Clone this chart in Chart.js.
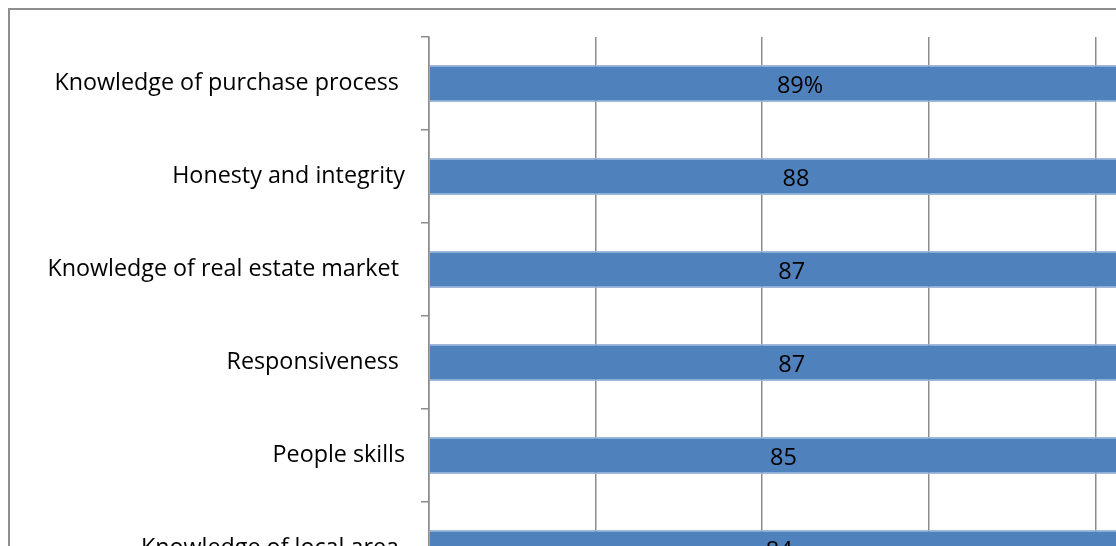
<!DOCTYPE html>
<html>
<head>
<meta charset="utf-8">
<script src="https://cdn.jsdelivr.net/npm/chart.js@4/dist/chart.umd.min.js"></script>
<style>
  html, body { margin: 0; padding: 0; background: #fff; overflow: hidden; width: 1116px; height: 546px; }
  #frame { position: absolute; left: 8px; top: 8px; width: 1400px; height: 800px; border: 2px solid #8e8e8e; box-sizing: border-box; }
  #wrap { position: absolute; left: 0; top: 0; width: 1400px; height: 800px; }
</style>
</head>
<body>
<div id="frame"></div>
<div id="wrap"><canvas id="c" width="1400" height="800"></canvas></div>
<script>
const categories = [
  "Knowledge of purchase process ",
  "Honesty and integrity",
  "Knowledge of real estate market ",
  "Responsiveness ",
  "People skills",
  "Knowledge of local area "
];
const values = [89, 88, 87, 87, 85, 84];
const valueLabels = ["89%", "88", "87", "87", "85", "84"];
const xTicks = [0, 20, 40, 60, 80, 100];

const FONT = "'Open Sans', 'Noto Sans', sans-serif";

const centerLabels = {
  id: 'centerLabels',
  afterDatasetsDraw(chart) {
    const ctx = chart.ctx;
    const meta = chart.getDatasetMeta(0);
    ctx.save();
    ctx.font = "23.5px " + FONT;
    ctx.fillStyle = "#000";
    ctx.textAlign = "center";
    ctx.textBaseline = "middle";
    meta.data.forEach((bar, i) => {
      const cx = (bar.base + bar.x) / 2;
      ctx.fillText(valueLabels[i], cx, bar.y + 2.5);
    });
    ctx.restore();
  }
};

new Chart(document.getElementById('c'), {
  type: 'bar',
  data: {
    labels: categories,
    datasets: [{
      data: values,
      backgroundColor: '#4F81BD',
      borderColor: '#9fb9dc',
      borderWidth: { top: 1.5, bottom: 1.5, left: 0, right: 0 },
      borderSkipped: false,
      barPercentage: 0.4,
      categoryPercentage: 1.0
    }]
  },
  options: {
    indexAxis: 'y',
    responsive: false,
    animation: false,
    events: [],
    layout: { padding: { left: 0, top: 37, right: 138, bottom: 165 } },
    plugins: { legend: { display: false }, tooltip: { enabled: false }, title: { display: false } },
    scales: {
      x: {
        min: xTicks[0],
        max: xTicks[xTicks.length - 1],
        afterBuildTicks(scale) { scale.ticks = xTicks.map(v => ({ value: v })); },
        afterFit(scale) { scale.height = 40; },
        grid: { color: '#8c8c8c', lineWidth: 1.5, drawTicks: true, tickLength: 8 },
        border: { display: false },
        ticks: { font: { family: FONT, size: 20 }, color: '#000', callback: v => v + '%' }
      },
      y: {
        afterFit(scale) { scale.width = 429; },
        grid: { drawOnChartArea: false, drawTicks: true, tickLength: 8, color: '#8c8c8c', lineWidth: 1.5, offset: true },
        border: { display: true, color: '#8c8c8c', width: 1.5 },
        ticks: { font: { family: FONT, size: 23.3 }, color: '#000', padding: 16 }
      }
    }
  },
  plugins: [centerLabels]
});
</script>
</body>
</html>
